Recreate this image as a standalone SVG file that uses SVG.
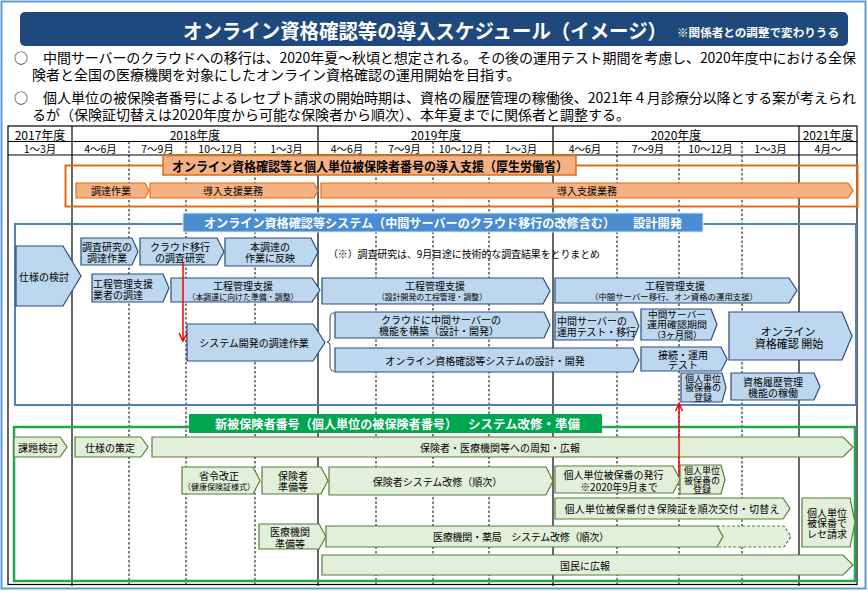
<svg xmlns="http://www.w3.org/2000/svg" width="868" height="591" viewBox="0 0 868 591">
<style>
text{font-family:"Noto Sans CJK JP","Noto Sans",sans-serif;fill:#000;text-anchor:middle;dominant-baseline:central}
.bx{fill:#BDD7EE;stroke:#2B4C7E;stroke-width:1.2}
.gx{fill:#E2EFDA;stroke:#538135;stroke-width:1.2}
.ox{fill:#F4B183;stroke:#E46C0A;stroke-width:1.2}
.s10{font-size:10px}
.s9{font-size:9px}
.s8{font-size:8px}
.s11{font-size:11px}
.hd{font-size:12px}
.qt{font-size:10.5px}
.p{font-size:14px;text-anchor:start}
.w{fill:#fff;font-weight:bold}
.solid{stroke:#000;stroke-width:1.2}
.dash{stroke:#000;stroke-width:1;stroke-dasharray:2.5 2}
.red{stroke:#FF0000;stroke-width:1.5;fill:none}
</style>
<rect x="0" y="0" width="868" height="591" fill="#fff"/>
<rect x="1.5" y="1.5" width="864" height="587" fill="none" stroke="#5B9BD5" stroke-width="2"/>

<g id="title">
<rect x="20" y="12" width="828" height="34" rx="5" fill="#1F497D"/>
<text x="183" y="30" class="w" style="font-size:20px;text-anchor:start" textLength="484" lengthAdjust="spacingAndGlyphs">オンライン資格確認等の導入スケジュール（イメージ）</text>
<text x="677" y="32" class="w" style="font-size:11.5px;text-anchor:start" textLength="162" lengthAdjust="spacingAndGlyphs">※関係者との調整で変わりうる</text>
</g>

<g id="summary">
<text x="14" y="57" class="p">○</text>
<text x="43" y="57" class="p" textLength="813" lengthAdjust="spacing">中間サーバーのクラウドへの移行は、2020年夏～秋頃と想定される。その後の運用テスト期間を考慮し、2020年度中における全保</text>
<text x="32" y="74" class="p">険者と全国の医療機関を対象にしたオンライン資格確認の運用開始を目指す。</text>
<text x="14" y="97" class="p">○</text>
<text x="43" y="97" class="p" textLength="813" lengthAdjust="spacing">個人単位の被保険者番号によるレセプト請求の開始時期は、資格の履歴管理の稼働後、2021年４月診療分以降とする案が考えられ</text>
<text x="32" y="114" class="p">るが（保険証切替えは2020年度から可能な保険者から順次）、本年夏までに関係者と調整する。</text>
</g>

<g id="timeline">
<rect x="8" y="126" width="849" height="458.5" fill="none" stroke="#000" stroke-width="1.2"/>
<line x1="8" y1="141.5" x2="857" y2="141.5" class="solid"/>
<line x1="8" y1="155" x2="857" y2="155" class="solid"/>
<line x1="72" y1="126" x2="72" y2="586" class="solid"/>
<line x1="318" y1="126" x2="318" y2="586" class="solid"/>
<line x1="553" y1="126" x2="553" y2="586" class="solid"/>
<line x1="799" y1="126" x2="799" y2="586" class="solid"/>
<g class="dash">
<line x1="129" y1="141.5" x2="129" y2="586"/>
<line x1="186" y1="141.5" x2="186" y2="586"/>
<line x1="255" y1="141.5" x2="255" y2="586"/>
<line x1="376" y1="141.5" x2="376" y2="586"/>
<line x1="433" y1="141.5" x2="433" y2="586"/>
<line x1="489" y1="141.5" x2="489" y2="586"/>
<line x1="617" y1="141.5" x2="617" y2="586"/>
<line x1="679" y1="141.5" x2="679" y2="586"/>
<line x1="742" y1="141.5" x2="742" y2="586"/>
</g>
<text x="40" y="134" class="hd">2017年度</text>
<text x="195" y="134" class="hd">2018年度</text>
<text x="436" y="134" class="hd">2019年度</text>
<text x="676" y="134" class="hd">2020年度</text>
<text x="828" y="134" class="hd">2021年度</text>
<text x="40" y="148.5" class="qt">1～3月</text>
<text x="100.5" y="148.5" class="qt">4～6月</text>
<text x="157.5" y="148.5" class="qt">7～9月</text>
<text x="220.5" y="148.5" class="qt">10～12月</text>
<text x="286.5" y="148.5" class="qt">1～3月</text>
<text x="347" y="148.5" class="qt">4～6月</text>
<text x="404.5" y="148.5" class="qt">7～9月</text>
<text x="461" y="148.5" class="qt">10～12月</text>
<text x="521" y="148.5" class="qt">1～3月</text>
<text x="585" y="148.5" class="qt">4～6月</text>
<text x="648" y="148.5" class="qt">7～9月</text>
<text x="710.5" y="148.5" class="qt">10～12月</text>
<text x="770.5" y="148.5" class="qt">1～3月</text>
<text x="828" y="148.5" class="qt">4月～</text>
</g>

<g id="frames">
<rect x="65.5" y="165.5" width="792" height="41" fill="none" stroke="#E46C0A" stroke-width="2"/>
<rect x="15" y="224" width="841" height="181" fill="none" stroke="#4F81BD" stroke-width="2"/>
<rect x="14" y="427" width="841" height="154" fill="none" stroke="#22A84A" stroke-width="2.5"/>
</g>

<g id="orange-title">
<rect x="163" y="155.5" width="413" height="19.5" fill="#F4B183" stroke="#E46C0A" stroke-width="1.5"/>
<text x="370" y="165.5" style="font-size:13px;font-weight:bold" textLength="396" lengthAdjust="spacingAndGlyphs">オンライン資格確認等と個人単位被保険者番号の導入支援（厚生労働省）</text>
</g>
<g id="o1"><polygon class="ox" points="76,183 145,183 149,190.5 145,198 76,198"/><text x="111" y="190.5" class="s10">調達作業</text></g>
<g id="o2"><polygon class="ox" points="150,183 314,183 318,190.5 314,198 150,198"/><text x="233" y="190.5" class="s10">導入支援業務</text></g>
<g id="o3"><polygon class="ox" points="321,183 848,183 853,190.5 848,198 321,198"/><text x="587" y="190.5" class="s10">導入支援業務</text></g>

<g id="blue-title">
<rect x="183" y="213" width="520" height="19" fill="#4A8DD0" stroke="#DCE9F7" stroke-width="1"/>
<text x="204" y="222.5" class="w" style="font-size:12.5px;text-anchor:start" textLength="411" lengthAdjust="spacingAndGlyphs">オンライン資格確認等システム（中間サーバーのクラウド移行の改修含む）</text>
<text x="633" y="222.5" class="w" style="font-size:12.5px;text-anchor:start" textLength="49" lengthAdjust="spacingAndGlyphs">設計開発</text>
</g>

<g id="b1"><polygon class="bx" points="16,246 63,246 81,276 63,306 16,306"/><text x="44" y="276" class="s10">仕様の検討</text></g>
<g id="b2"><polygon class="bx" points="81,238 132,238 138,251.5 132,265 81,265"/><text x="107" y="246.5" class="s10">調査研究の</text><text x="107" y="257.5" class="s10">調達作業</text></g>
<g id="b3"><polygon class="bx" points="140,238 217,238 224,251.5 217,265 140,265"/><text x="180" y="246.5" class="s10">クラウド移行</text><text x="180" y="257.5" class="s10">の調査研究</text></g>
<g id="b4"><polygon class="bx" points="225,238 311,238 318,252 311,266 225,266"/><text x="270" y="246.5" class="s10">本調達の</text><text x="270" y="257.5" class="s10">作業に反映</text></g>
<g id="b5"><polygon class="bx" points="92,274 163,274 169,288 163,302 92,302"/><text x="93" y="283" class="s10" style="text-anchor:start">工程管理支援</text><text x="93" y="294" class="s10" style="text-anchor:start">業者の調達</text></g>
<g id="b6"><polygon class="bx" points="171,278 312,278 320,290 312,302 171,302"/><text x="243" y="285.5" class="s10">工程管理支援</text><text x="243" y="296" class="s8" textLength="111" lengthAdjust="spacingAndGlyphs">（本調達に向けた準備・調整）</text></g>
<g id="b7"><polygon class="bx" points="187,324 313,324 325,342.5 313,361 187,361"/><text x="254" y="342.5" class="s10">システム開発の調達作業</text></g>
<g id="note"><text x="328" y="253" class="s10" style="text-anchor:start" textLength="272" lengthAdjust="spacing">（※）調査研究は、9月目途に技術的な調査結果をとりまとめ</text></g>
<g id="b8"><polygon class="bx" points="322,278 543,278 550,291 543,304 322,304"/><text x="435" y="285.5" class="s10">工程管理支援</text><text x="432" y="296" class="s8" textLength="110" lengthAdjust="spacingAndGlyphs">（設計開発の工程管理・調整）</text></g>
<g id="b10"><polygon class="bx" points="335,312 544,312 550,325 544,338 335,338"/><text x="441" y="319.5" class="s10">クラウドに中間サーバーの</text><text x="439" y="330.5" class="s10">機能を構築（設計・開発）</text></g>
<g id="b11"><polygon class="bx" points="335,348 633,348 639,360 633,372 335,372"/><text x="485" y="360" class="s10">オンライン資格確認等システムの設計・開発</text></g>
<g id="b12"><polygon class="bx" points="555,278 789,278 797,290.5 789,303 555,303"/><text x="675" y="285.5" class="s10">工程管理支援</text><text x="674" y="296" class="s8" textLength="168" lengthAdjust="spacingAndGlyphs">（中間サーバー移行、オン資格の運用支援）</text></g>
<g id="b13"><polygon class="bx" points="555,312 633,312 639,326 633,340 555,340"/><text x="557" y="320.5" class="s10" style="text-anchor:start">中間サーバーの</text><text x="557" y="331.5" class="s10" style="text-anchor:start" textLength="79" lengthAdjust="spacingAndGlyphs">運用テスト・移行</text></g>
<g id="b14"><polygon class="bx" points="641,309 711,309 717,324.5 711,340 641,340"/><text x="677" y="314.5" class="s9" textLength="58" lengthAdjust="spacingAndGlyphs">中間サーバー</text><text x="677" y="324.5" class="s9" textLength="60" lengthAdjust="spacingAndGlyphs">運用確認期間</text><text x="677" y="334" class="s9">（3ヶ月間）</text></g>
<g id="b15"><polygon class="bx" points="729,312 842,312 852,336 842,360 729,360"/><text x="788" y="330.5" class="s11">オンライン</text><text x="789" y="342.5" class="s11">資格確認 開始</text></g>
<g id="b16"><polygon class="bx" points="641,347 721,347 727,359 721,371 641,371"/><text x="683" y="354" class="s10">接続・運用</text><text x="683" y="364.5" class="s10">テスト</text></g>
<g id="b17"><polygon class="bx" points="681,373 722,373 726,387.5 722,402 681,402"/><text x="703" y="378" class="s9">個人単位</text><text x="703" y="387.5" class="s9">被保番の</text><text x="703" y="397" class="s9">登録</text></g>
<g id="b18"><polygon class="bx" points="731,373 814,373 820,386.5 814,400 731,400"/><text x="773" y="381.5" class="s10">資格履歴管理</text><text x="773" y="392.5" class="s10">機能の稼働</text></g>

<g id="green-title">
<rect x="189" y="414" width="413" height="19" fill="#00A650"/>
<text x="215" y="423.5" class="w" style="font-size:12.5px;text-anchor:start" textLength="242" lengthAdjust="spacingAndGlyphs">新被保険者番号（個人単位の被保険者番号）</text>
<text x="468" y="423.5" class="w" style="font-size:12.5px;text-anchor:start" textLength="112" lengthAdjust="spacingAndGlyphs">システム改修・準備</text>
</g>

<g id="g1"><polygon class="gx" points="14,437 60,437 67,447 60,457 14,457"/><text x="38" y="447.5" class="s10">課題検討</text></g>
<g id="g2"><polygon class="gx" points="75,437 141,437 148,447 141,457 75,457"/><text x="110" y="447.5" class="s10">仕様の策定</text></g>
<g id="g3"><polygon class="gx" points="152,437 843,437 853,447 843,457 152,457"/><text x="500" y="447.5" class="s10">保険者・医療機関等への周知・広報</text></g>
<g id="g4"><polygon class="gx" points="182,467 253,467 260,480.5 253,494 182,494"/><text x="219" y="475" class="s10">省令改正</text><text x="219" y="486.5" class="s8" textLength="72" lengthAdjust="spacingAndGlyphs">（健康保険証様式）</text></g>
<g id="g5"><polygon class="gx" points="262,467 321,467 328,480.5 321,494 262,494"/><text x="293" y="475" class="s10">保険者</text><text x="293" y="486.5" class="s10">準備等</text></g>
<g id="g6"><polygon class="gx" points="329,467 546,467 553,481 546,495 329,495"/><text x="437.5" y="481" class="s10">保険者システム改修（順次）</text></g>
<g id="g7"><polygon class="gx" points="555,466 673,466 680,479.5 673,493 555,493"/><text x="613.5" y="474" class="s10">個人単位被保番の発行</text><text x="619" y="486" class="s10">※2020年9月まで</text></g>
<g id="g8"><polygon class="gx" points="680,465 721,465 725,479.5 721,494 680,494"/><text x="702" y="470.5" class="s9">個人単位</text><text x="702" y="480" class="s9">被保番の</text><text x="702" y="489.5" class="s9">登録</text></g>
<g id="g9"><polygon class="gx" points="555,498 783,498 790,508.5 783,519 555,519"/><text x="672" y="508.5" class="s10" textLength="215" lengthAdjust="spacing">個人単位被保番付き保険証を順次交付・切替え</text></g>
<g id="g10"><polygon class="gx" points="802,498 850,498 855,522.5 850,547 802,547"/><text x="827" y="512" class="s10">個人単位</text><text x="827" y="522.5" class="s10">被保番で</text><text x="827" y="533" class="s10">レセ請求</text></g>
<g id="g11"><polygon class="gx" points="259,524 319,524 326,536.5 319,549 259,549"/><text x="290" y="531.5" class="s10">医療機関</text><text x="290" y="543" class="s10">準備等</text></g>
<g id="g12"><polygon points="717,526 784,526 791,536.5 784,547 717,547" fill="#E2EFDA" stroke="#538135" stroke-width="1.2" stroke-dasharray="3 2"/><polygon class="gx" points="326,526 717,526 723,536.5 717,547 326,547"/><text x="521" y="536.5" class="s10" textLength="176" lengthAdjust="spacing">医療機関・薬局　システム改修（順次）</text></g>
<g id="g13"><polygon class="gx" points="322,555 843,555 853,565 843,575 322,575"/><text x="585" y="565" class="s10">国民に広報</text></g>

<g id="connectors">
<path class="red" d="M183,262 L183,341 M179,333 L183,341 L187,333"/>
<path class="red" d="M679,476 L679,403.5 M675.5,411 L679,403.5 L682.5,411"/>
<path d="M334,313 Q330,313 330,318 L330,338 Q330,342 327,342 Q330,342 330,346 L330,366 Q330,371 334,371" fill="none" stroke="#333" stroke-width="0.9"/>
</g>

<text x="437" y="594" style="font-size:10px">5</text>
</svg>
